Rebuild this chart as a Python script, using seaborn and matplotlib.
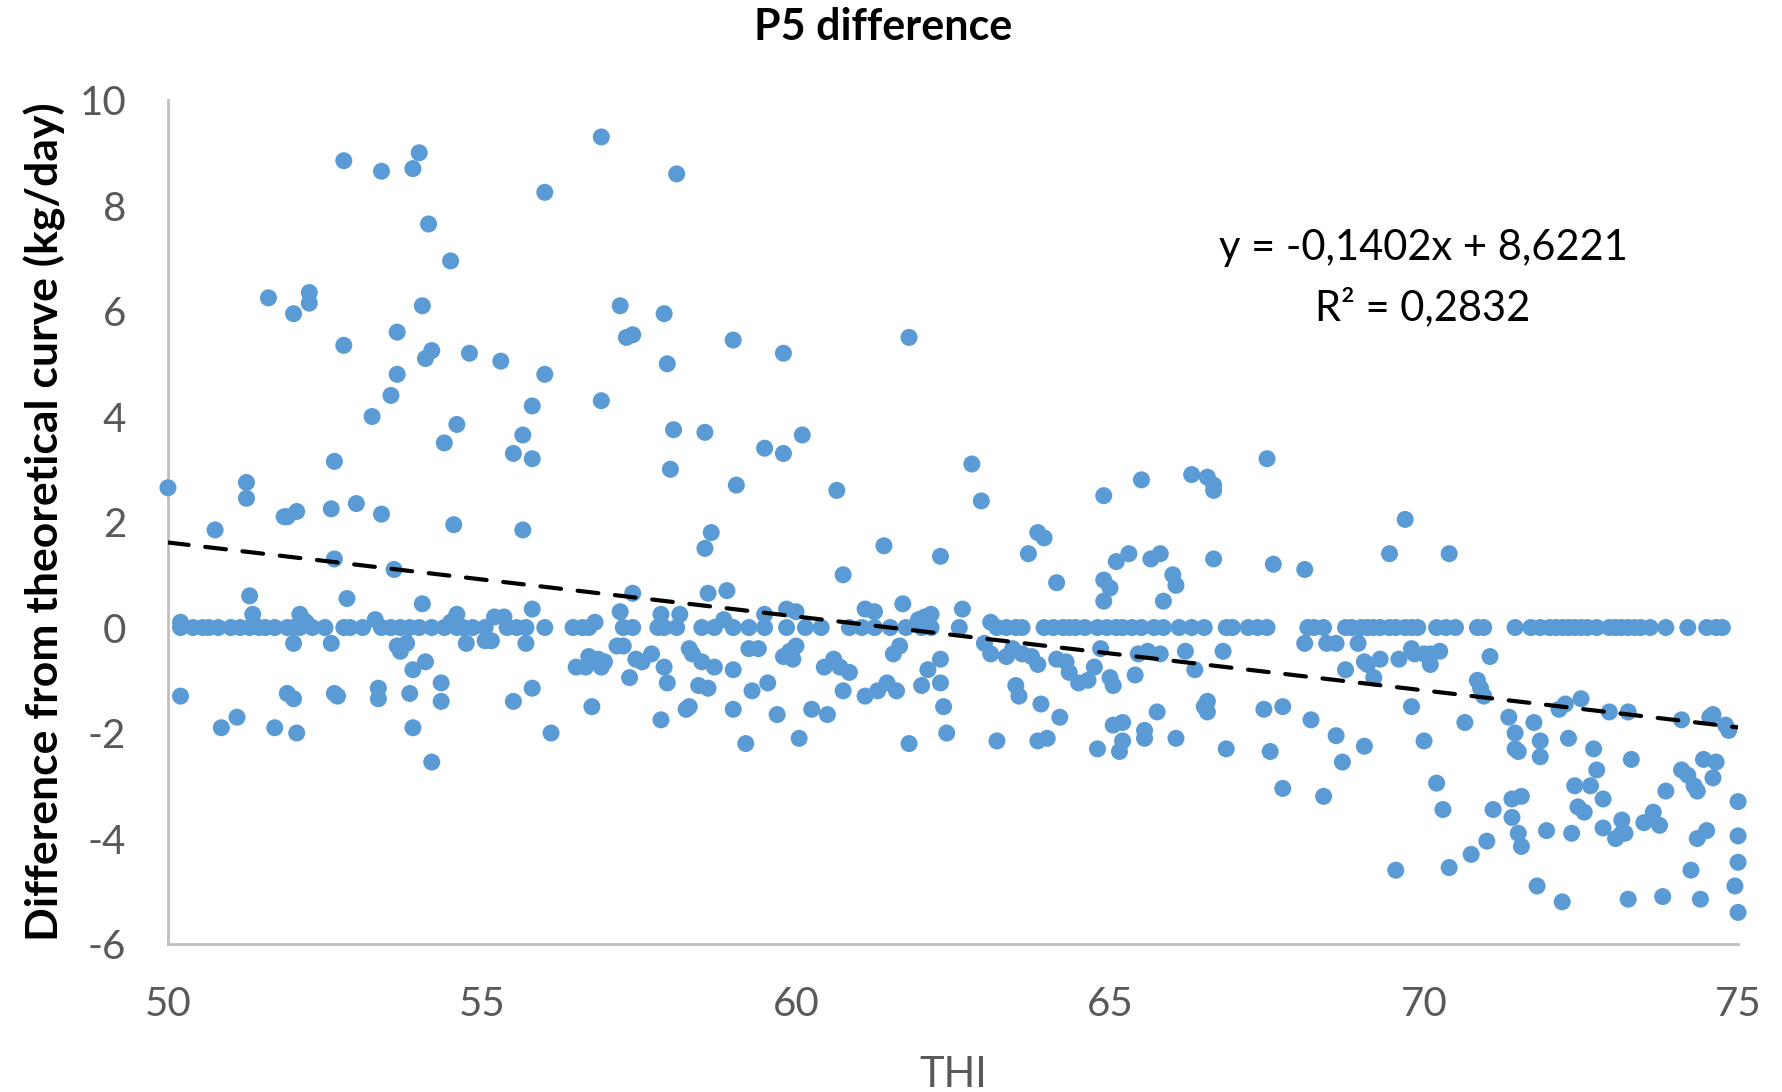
import matplotlib
matplotlib.use("Agg")
import matplotlib.pyplot as plt
import seaborn as sns
import numpy as np
import pandas as pd

# ---- data ----
high_points = [
    (52.8, 8.85), (53.4, 8.65), (53.9, 8.7), (54.0, 9.0), (54.15, 7.65), (56.0, 8.25), (56.9, 9.3), (58.1, 8.6),
    (54.5, 6.95), (54.05, 6.1), (51.6, 6.25), (52.0, 5.95), (52.25, 6.35), (52.25, 6.15),
    (53.65, 5.6), (52.8, 5.35), (54.2, 5.25), (54.1, 5.1), (54.8, 5.2), (55.3, 5.05), (56.0, 4.8),
    (53.65, 4.8), (53.55, 4.4), (53.25, 4.0), (55.8, 4.2), (56.9, 4.3), (54.6, 3.85), (55.65, 3.65),
    (54.4, 3.5), (55.5, 3.3), (55.8, 3.2), (52.65, 3.15), (57.2, 6.1), (57.4, 5.55), (57.3, 5.5),
    (57.9, 5.95), (57.95, 5.0), (59.0, 5.45), (59.8, 5.2), (61.8, 5.5), (58.05, 3.75), (58.55, 3.7),
    (58.0, 3.0), (60.1, 3.65), (59.5, 3.4), (59.8, 3.3), (59.05, 2.7), (60.65, 2.6), (62.8, 3.1),
    (62.95, 2.4), (65.5, 2.8), (66.3, 2.9), (66.55, 2.85), (66.65, 2.7), (66.65, 2.6), (67.5, 3.2),
    (64.9, 2.5), (69.7, 2.05), (69.45, 1.4), (70.4, 1.4), (68.1, 1.1), (67.6, 1.2), (66.65, 1.3),
    (65.8, 1.4), (65.65, 1.3), (65.3, 1.4), (65.1, 1.25), (66.0, 1.0), (66.05, 0.8), (65.85, 0.5),
    (64.9, 0.9), (64.9, 0.5), (65.0, 0.75), (63.7, 1.4), (63.85, 1.8), (63.95, 1.7), (64.15, 0.85),
    (62.3, 1.35), (61.4, 1.55), (60.75, 1.0), (58.65, 1.8), (58.55, 1.5), (58.6, 0.65), (58.9, 0.7),
    (55.65, 1.85), (54.55, 1.95), (52.6, 2.25), (52.65, 1.3), (51.85, 2.1), (51.9, 2.1), (52.05, 2.2),
    (53.0, 2.35), (53.4, 2.15), (51.25, 2.75), (51.25, 2.45), (50.75, 1.85), (50.0, 2.65), (53.6, 1.1),
    (52.85, 0.55), (51.3, 0.6), (51.35, 0.25), (52.1, 0.25), (52.15, 0.15), (53.3, 0.15), (54.05, 0.45),
    (54.6, 0.25), (55.2, 0.2), (55.35, 0.2), (55.8, 0.35), (56.8, 0.1), (57.4, 0.65), (57.2, 0.3),
    (57.85, 0.25), (58.15, 0.25), (59.5, 0.25), (59.85, 0.35), (61.1, 0.35), (61.25, 0.3),
    (61.7, 0.45), (62.15, 0.25), (62.65, 0.35), (63.1, 0.1), (61.95, 0.15), (62.05, 0.2),
    (58.85, 0.15), (60.0, 0.3), (50.2, 0.1), (52.2, 0.1), (54.5, 0.1),
]

zero_thi = [
    50.2, 50.4, 50.55, 50.65, 50.8, 51.0, 51.15, 51.3, 51.45, 51.55, 51.7, 51.9, 52.0, 52.1, 52.3,
    52.5, 52.8, 52.9, 53.1, 53.4, 53.55, 53.7, 53.85, 54.0, 54.2, 54.4, 54.6, 54.7, 54.85, 55.05,
    55.4, 55.55, 55.7, 56.0, 56.45, 56.6, 56.7, 57.25, 57.4, 57.8, 57.9, 58.1, 58.5, 58.7, 59.0,
    59.25, 59.5, 59.85, 60.15, 60.4, 60.85, 61.05, 61.25, 61.5, 61.75, 62.0, 62.15, 62.6, 63.2,
    63.35, 63.5, 63.6, 63.95, 64.1, 64.25, 64.35, 64.45, 64.6, 64.8, 64.95, 65.1, 65.2, 65.35,
    65.5, 65.7, 65.85, 66.1, 66.3, 66.5, 66.85, 66.95, 67.2, 67.35, 67.5, 68.15, 68.25, 68.4,
    68.75, 68.85, 69.0, 69.1, 69.2, 69.3, 69.45, 69.55, 69.7, 69.8, 69.9, 70.2, 70.35, 70.5,
    70.85, 70.95, 71.45, 71.7, 71.85, 72.0, 72.1, 72.2, 72.3, 72.4, 72.5, 72.6, 72.75, 72.95,
    73.05, 73.15, 73.25, 73.35, 73.45, 73.6, 73.85, 74.2, 74.5, 74.65, 74.75,
]

low_points = [
    (50.2, -1.3), (50.85, -1.9), (51.1, -1.7), (51.7, -1.9), (51.9, -1.25), (52.0, -1.35), (52.0, -0.3),
    (52.05, -2.0), (52.65, -1.25), (52.7, -1.3), (52.6, -0.3), (53.35, -1.15), (53.35, -1.35),
    (53.65, -0.35), (53.7, -0.45), (53.8, -0.3), (53.9, -0.8), (53.85, -1.25), (53.9, -1.9),
    (54.1, -0.65), (54.2, -2.55), (54.35, -1.05), (54.35, -1.4), (54.75, -0.3), (55.05, -0.25),
    (55.15, -0.25), (55.5, -1.4), (55.7, -0.3), (55.8, -1.15), (56.1, -2.0), (56.5, -0.75),
    (56.65, -0.75), (56.7, -0.55), (56.85, -0.6), (56.9, -0.75), (56.95, -0.65), (56.75, -1.5),
    (57.15, -0.35), (57.25, -0.35), (57.35, -0.95), (57.45, -0.6), (57.55, -0.65), (57.7, -0.5),
    (57.9, -0.75), (57.95, -1.05), (57.85, -1.75), (58.3, -0.4), (58.35, -0.5), (58.5, -0.65),
    (58.45, -1.1), (58.6, -1.15), (58.25, -1.55), (58.3, -1.5), (58.7, -0.75), (59.0, -0.8),
    (59.0, -1.55), (59.2, -2.2), (59.3, -1.2), (59.25, -0.4), (59.4, -0.4), (59.55, -1.05),
    (59.7, -1.65), (59.8, -0.55), (59.9, -0.45), (60.0, -0.35), (59.95, -0.6), (60.05, -2.1),
    (60.25, -1.55), (60.5, -1.65), (60.45, -0.75), (60.6, -0.6), (60.7, -0.75), (60.85, -0.85),
    (60.75, -1.2), (61.1, -1.3), (61.3, -1.2), (61.45, -1.05), (61.55, -0.5), (61.65, -0.35),
    (61.6, -1.2), (61.8, -2.2), (62.0, -1.1), (62.1, -0.8), (62.3, -0.6), (62.3, -1.05),
    (62.35, -1.5), (62.4, -2.0), (63.0, -0.3), (63.1, -0.5), (63.2, -2.15), (63.35, -0.55),
    (63.45, -0.4), (63.6, -0.5), (63.5, -1.1), (63.55, -1.3), (63.75, -0.55), (63.85, -0.7),
    (63.9, -1.45), (63.85, -2.15), (64.0, -2.1), (64.15, -0.6), (64.3, -0.65), (64.2, -1.7),
    (64.35, -0.85), (64.5, -1.05), (64.65, -1.0), (64.75, -0.75), (64.85, -0.4), (64.8, -2.3),
    (65.0, -0.95), (65.05, -1.1), (65.05, -1.85), (65.2, -1.8), (65.2, -2.15), (65.15, -2.35),
    (65.4, -0.9), (65.45, -0.5), (65.55, -1.95), (65.55, -2.1), (65.6, -0.45), (65.75, -1.6),
    (65.8, -0.5), (66.05, -2.1), (66.2, -0.45), (66.35, -0.8), (66.5, -1.5), (66.55, -1.4),
    (66.55, -1.6), (66.8, -0.45), (66.85, -2.3), (67.45, -1.55), (67.55, -2.35), (67.75, -1.5),
    (67.75, -3.05), (68.1, -0.3), (68.2, -1.75), (68.45, -0.3), (68.4, -3.2), (68.6, -0.3),
    (68.6, -2.05), (68.7, -2.55), (68.75, -0.8), (68.95, -0.3), (69.05, -0.65), (69.1, -0.7),
    (69.2, -0.95), (69.3, -0.6), (69.05, -2.25), (69.6, -0.6), (69.55, -4.6), (69.8, -0.4),
    (69.85, -0.5), (69.8, -1.5), (70.0, -0.5), (70.1, -0.5), (70.1, -0.7), (70.25, -0.45),
    (70.0, -2.15), (70.2, -2.95), (70.3, -3.45), (70.4, -4.55), (70.65, -1.8), (70.75, -4.3),
    (70.85, -1.0), (70.9, -1.15), (70.95, -1.3), (71.0, -4.05), (71.1, -3.45), (71.05, -0.55),
    (71.35, -1.7), (71.45, -2.0), (71.45, -2.3), (71.4, -3.25), (71.4, -3.6), (71.5, -3.9),
    (71.55, -4.15), (71.5, -2.35), (71.55, -3.2), (71.75, -1.8), (71.85, -2.15), (71.85, -2.45),
    (71.8, -4.9), (71.95, -3.85), (72.15, -1.55), (72.25, -1.45), (72.2, -5.2), (72.3, -2.1),
    (72.35, -3.9), (72.4, -3.0), (72.45, -3.4), (72.5, -1.35), (72.55, -3.5), (72.65, -3.0),
    (72.7, -2.3), (72.75, -2.7), (72.85, -3.8), (72.85, -3.25), (72.95, -1.6), (73.05, -4.0),
    (73.15, -3.65), (73.15, -3.9), (73.2, -3.9), (73.25, -1.6), (73.3, -2.5), (73.25, -5.15),
    (73.5, -3.7), (73.65, -3.5), (73.75, -3.75), (73.8, -5.1), (73.85, -3.1), (74.1, -1.75),
    (74.1, -2.7), (74.2, -2.8), (74.25, -4.6), (74.3, -3.0), (74.35, -3.1), (74.35, -4.0),
    (74.4, -5.15), (74.45, -2.5), (74.5, -3.85), (74.55, -1.7), (74.6, -2.85), (74.6, -1.65),
    (74.65, -2.55), (74.8, -1.85), (74.85, -1.95), (74.95, -4.9), (75.0, -3.3), (75.0, -3.95),
    (75.0, -4.45), (75.0, -5.4),
]

slope = -0.1402
intercept = 8.6221
r_squared = 0.2832
x_ticks = [50, 55, 60, 65, 70, 75]
y_ticks = [-6, -4, -2, 0, 2, 4, 6, 8, 10]

thi = [p[0] for p in high_points] + zero_thi + [p[0] for p in low_points]
diff = [p[1] for p in high_points] + [0.0] * len(zero_thi) + [p[1] for p in low_points]
df = pd.DataFrame({"THI": thi, "diff": diff})

# ---- plot ----
sns.set_theme(style="white")
plt.rcParams["font.family"] = ["Lato", "DejaVu Sans"]
plt.rcParams["axes.unicode_minus"] = False

fig = plt.figure(figsize=(17.83, 10.92), dpi=100)
ax = fig.add_axes([0.0942, 0.1355, 0.9748 - 0.0942, 0.9084 - 0.1355])

sns.scatterplot(data=df, x="THI", y="diff", ax=ax, color="#5B9BD5", s=150,
                edgecolor="none", linewidth=0, zorder=3, clip_on=False)

fit_x = np.array([x_ticks[0], x_ticks[-1]], dtype=float)
ax.plot(fit_x, slope * fit_x + intercept, color="black", lw=3.0,
        dashes=(5, 4), zorder=4, dash_capstyle="round")

ax.set_xlim(50, 75)
ax.set_ylim(-6, 10)
ax.set_xticks(x_ticks)
ax.set_yticks(y_ticks)
ax.set_xticklabels([str(t) for t in x_ticks])
ax.set_yticklabels([str(t) for t in y_ticks])

for side in ["top", "right"]:
    ax.spines[side].set_visible(False)
for side in ["left", "bottom"]:
    ax.spines[side].set_color("#BFBFBF")
    ax.spines[side].set_linewidth(2)

ax.tick_params(axis="both", direction="in", length=11, width=2, color="#BFBFBF",
               labelsize=29, labelcolor="#595959", pad=30)

ax.set_xlabel("THI", fontsize=30, color="#595959", labelpad=24)
ax.set_ylabel("Difference from theoretical curve (kg/day)", fontsize=32,
              fontweight="bold", color="black", labelpad=10)

fig.text(0.4955, 0.975, "P5 difference", ha="center", va="center",
         fontsize=31, fontweight="bold", color="black")

fig.text(1423 / 1783, 1 - 248 / 1092, "y = -0,1402x + 8,6221", ha="center", va="center",
         fontsize=30, color="black")
fig.text(1423 / 1783, 1 - 307 / 1092, f"R² = {r_squared:.4f}".replace(".", ","),
         ha="center", va="center", fontsize=30, color="black")

fig.savefig("out.png", dpi=100, facecolor="white")
